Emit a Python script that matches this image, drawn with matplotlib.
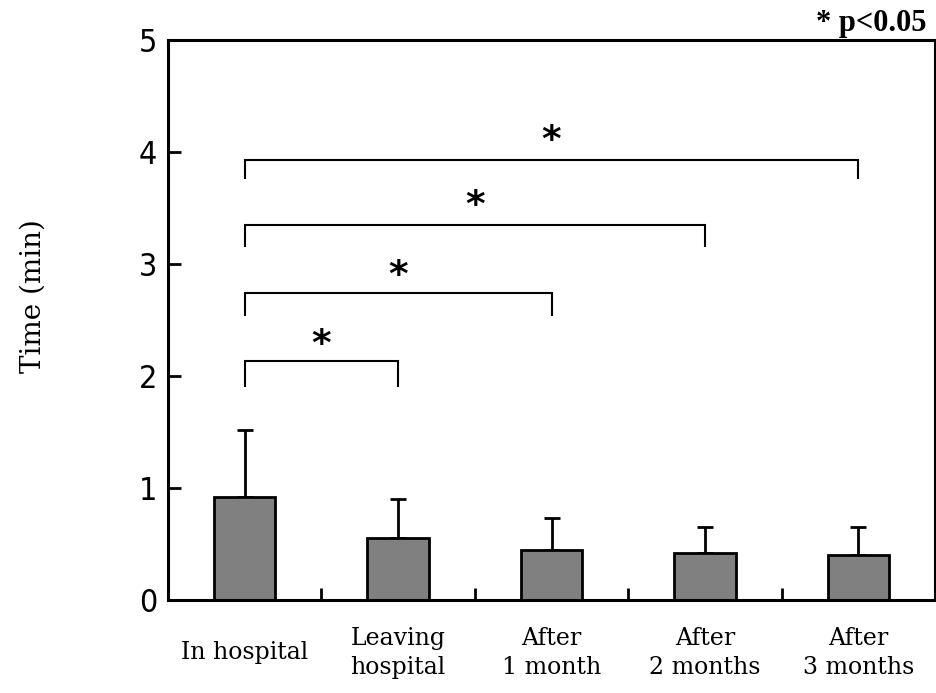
import numpy as np
import matplotlib
matplotlib.use("Agg")
import matplotlib.pyplot as plt
from matplotlib import font_manager

# mean time and upper SD for each period
labels = ["In hospital", "Leaving\nhospital", "After\n1 month", "After\n2 months", "After\n3 months"]
means = [0.92, 0.55, 0.45, 0.42, 0.40]
sds = [0.60, 0.35, 0.28, 0.23, 0.25]

# significance brackets: (from, to, bar height, leg bottom, star height)
brackets = [
    (0, 1, 2.13, 1.90, 2.28),
    (0, 2, 2.74, 2.54, 2.89),
    (0, 3, 3.35, 3.15, 3.52),
    (0, 4, 3.93, 3.76, 4.10),
]

serif = ["DejaVu Serif"]
names = {f.name for f in font_manager.fontManager.ttflist}
narrow = [n for n in ["Liberation Sans Narrow", "DejaVu Sans Condensed"] if n in names] + ["DejaVu Sans"]

fig = plt.figure(figsize=(9.37, 6.93), dpi=100)
ax = fig.add_axes([168 / 937, 93 / 693, 767 / 937, 560 / 693])

x = np.arange(len(means))
ax.bar(x, means, width=0.4, color="#808080", edgecolor="black", linewidth=2.0, zorder=2)
ax.errorbar(x, means, yerr=[np.zeros(len(sds)), sds], fmt="none", ecolor="black",
            elinewidth=2.0, capsize=5.5, capthick=2.0, zorder=1)

for a, b, y, y0, ys in brackets:
    ax.plot([a, a, b, b], [y0, y, y, y0], color="black", lw=1.5, solid_capstyle="butt",
            solid_joinstyle="miter")
    ax.text((a + b) / 2, ys, "*", ha="center", va="center", fontsize=27,
            fontweight="bold", family=["DejaVu Sans"])

ax.set_xlim(-0.5, len(means) - 0.5)
ax.set_ylim(0, 5)

ax.set_xticks(x)
ax.set_xticklabels(labels, family=serif, fontsize=17, va="center", linespacing=1.35)
ax.set_xticks(x[:-1] + 0.5, minor=True)
ax.tick_params(axis="x", which="major", length=0, pad=38)
ax.tick_params(axis="x", which="minor", direction="in", length=9, width=2)

ax.set_yticks(range(6))
ax.tick_params(axis="y", direction="in", length=9, width=2, pad=8)
for t in ax.get_yticklabels():
    t.set_family(narrow)
    t.set_fontstretch("condensed")
    t.set_fontsize(23)

for s in ax.spines.values():
    s.set_linewidth(2.2)

fig.text(33 / 937, 1 - 296 / 693, "Time (min)", rotation=90, ha="center", va="center",
         family=serif, fontsize=20)
fig.text(927 / 937, 1 - 31 / 693, "* p<0.05", ha="right", va="baseline",
         family=["Liberation Serif"], fontweight="bold", fontsize=22)

fig.savefig("out.png", dpi=100)
